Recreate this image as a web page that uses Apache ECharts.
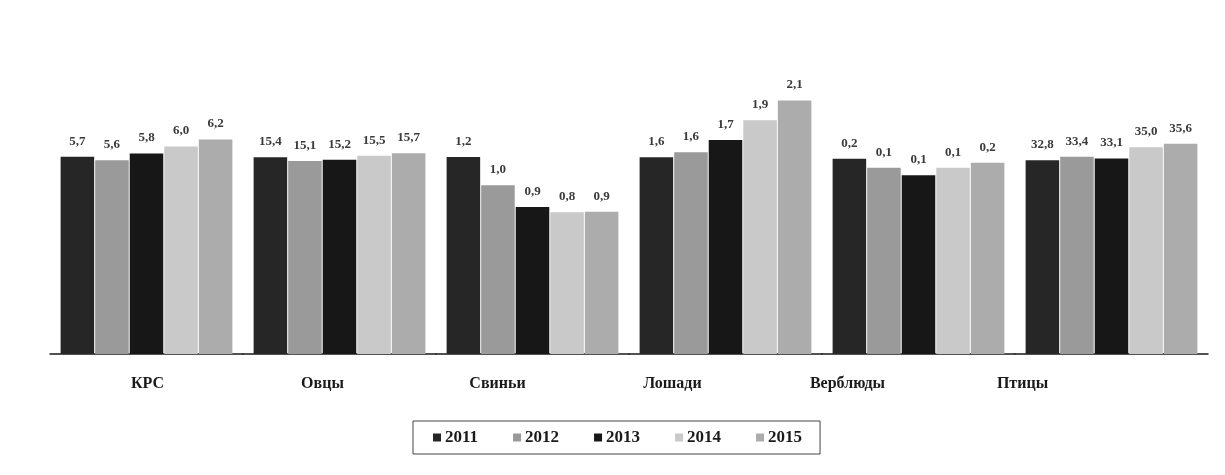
<!DOCTYPE html>
<html><head><meta charset="utf-8">
<script src="https://cdn.jsdelivr.net/npm/echarts@6/dist/echarts.min.js"></script>
<style>html,body{margin:0;padding:0;background:#fff}#c{width:1225px;height:475px}</style>
</head><body><div id="c"></div>
<script>
const categories = ['КРС', 'Овцы', 'Свиньи', 'Лошади', 'Верблюды', 'Птицы'];
const years = ['2011', '2012', '2013', '2014', '2015'];
const v2011 = [5.7, 15.4, 1.18, 1.6, 0.154, 32.8];
const v2012 = [5.6, 15.1, 1.01, 1.64, 0.147, 33.4];
const v2013 = [5.8, 15.2, 0.88, 1.74, 0.141, 33.1];
const v2014 = [6.0, 15.5, 0.849, 1.9, 0.147, 35.0];
const v2015 = [6.2, 15.7, 0.851, 2.06, 0.151, 35.6];
const seriesValues = [v2011, v2012, v2013, v2014, v2015];
// each group in the original is drawn on its own scale
const groupMax = [8.5, 23.0, 1.76, 2.39, 0.232, 49.8];

const colors = ['#262626', '#9a9a9a', '#171717', '#c9c9c9', '#acacac'];
const FONT = 'Liberation Serif';
const BAND_LEFT = 50, BAND_W = 193, GRID_TOP = 60, GRID_BOTTOM = 121;

const grids = [], xAxes = [], yAxes = [], series = [];
categories.forEach((cat, g) => {
  grids.push({left: BAND_LEFT + g * BAND_W, width: BAND_W, top: GRID_TOP, bottom: GRID_BOTTOM});
  xAxes.push({type: 'category', gridIndex: g, data: [cat],
    axisLine: {show: true, lineStyle: {color: '#1a1a1a', width: 1.5}},
    axisTick: {show: false}, axisLabel: {show: false}});
  yAxes.push({type: 'value', gridIndex: g, min: 0, max: groupMax[g], show: false, splitLine: {show: false}});
  years.forEach((y, i) => {
    series.push({
      type: 'bar', name: y, xAxisIndex: g, yAxisIndex: g,
      data: [seriesValues[i][g]],
      barCategoryGap: '11%', barGap: '3%',
      itemStyle: {color: colors[i]},
      label: {show: true, position: 'top', distance: 9,
        fontFamily: FONT, fontWeight: 'bold', fontSize: 13, color: '#3a3a3a',
        formatter: p => p.value.toFixed(1).replace('.', ',')}
    });
  });
});
// category labels row
grids.push({left: 60, width: 1050, top: GRID_TOP, bottom: GRID_BOTTOM});
xAxes.push({type: 'category', gridIndex: 6, data: categories,
  axisLine: {show: false}, axisTick: {show: false},
  axisLabel: {margin: 22, fontFamily: FONT, fontWeight: 'bold', fontSize: 16, color: '#1a1a1a'}});
yAxes.push({type: 'value', gridIndex: 6, show: false});

const chart = echarts.init(document.getElementById('c'));
chart.setOption({
  animation: false,
  backgroundColor: '#fff',
  grid: grids, xAxis: xAxes, yAxis: yAxes, series: series,
  legend: {
    data: years, left: 413, top: 421,
    itemWidth: 8, itemHeight: 8, itemGap: 35, icon: 'rect',
    padding: [8, 18, 8, 20],
    borderColor: '#444', borderWidth: 1,
    textStyle: {fontFamily: FONT, fontWeight: 'bold', fontSize: 17, color: '#1a1a1a', padding: [0, 0, 0, -1]}
  }
});
</script></body></html>
